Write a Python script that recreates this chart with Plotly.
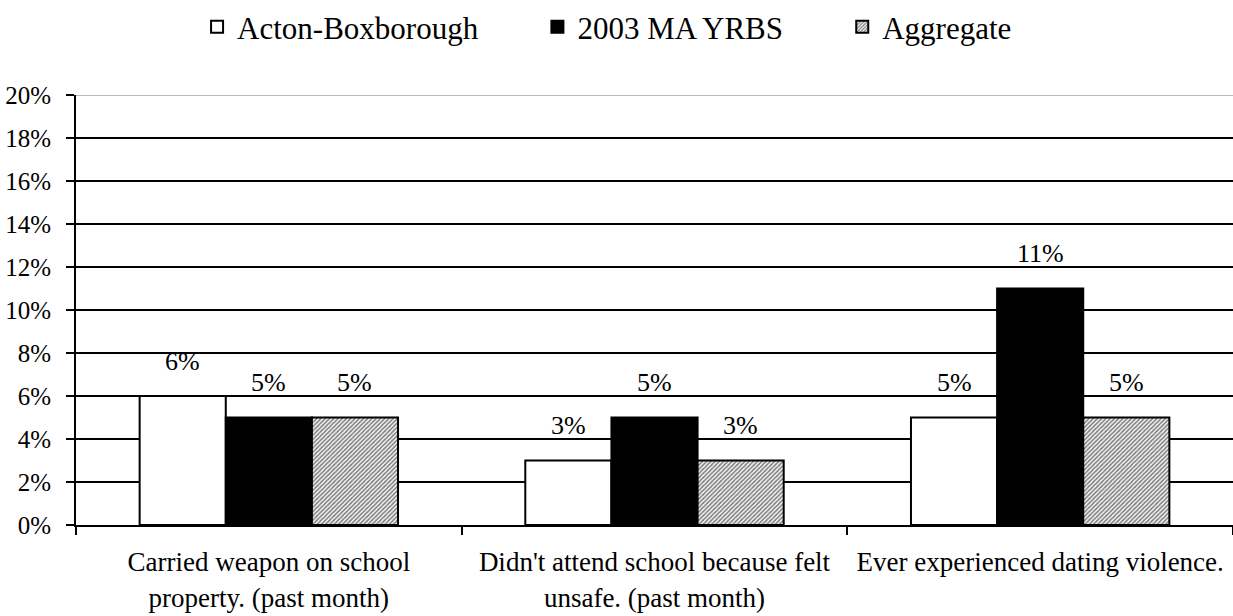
import plotly.graph_objects as go

# Données / Data
categories = [
    "Carried weapon on school<br>property. (past month)",
    "Didn't attend school because felt<br>unsafe. (past month)",
    "Ever experienced dating violence.",
]
series_names = ["Acton-Boxborough", "2003 MA YRBS", "Aggregate"]
acton = [6, 3, 5]
yrbs = [5, 5, 11]
aggregate = [5, 3, 5]
y_ticks = [0, 2, 4, 6, 8, 10, 12, 14, 16, 18, 20]

fnt = "Liberation Serif, Times New Roman, serif"
pad = "\u00a0" * 7  # espacement de la légende / legend spacing

fig = go.Figure()

fig.add_trace(go.Bar(
    x=categories, y=acton, name=series_names[0] + pad,
    marker=dict(color="white", line=dict(color="black", width=2)),
))
fig.add_trace(go.Bar(
    x=categories, y=yrbs, name=series_names[1] + pad,
    marker=dict(color="black", line=dict(color="black", width=2)),
))
fig.add_trace(go.Bar(
    x=categories, y=aggregate, name=series_names[2],
    marker=dict(color="white", line=dict(color="black", width=2),
                pattern=dict(shape="/", size=3, solidity=0.55, fgcolor="black", bgcolor="white")),
))

# Étiquettes de valeurs / Value labels (décalées au-dessus des barres)
bar_px = 1157 / 3 * (1 - 0.33) / 3
for i, vals in enumerate([acton, yrbs, aggregate]):
    for cat, v in zip(categories, vals):
        fig.add_annotation(
            x=cat, y=v, text=f"{v}%", showarrow=False,
            xshift=(i - 1) * bar_px, yshift=35, yanchor="middle",
            font=dict(family=fnt, size=26, color="black"),
        )

# Ligne du haut grise / Grey top line
fig.add_shape(type="line", xref="paper", yref="y", x0=0, x1=1, y0=20, y1=20,
              line=dict(color="#b8b8b8", width=2), layer="above")

fig.update_layout(
    width=1233, height=616,
    margin=dict(l=76, r=0, t=91, b=91),
    barmode="group", bargap=0.33, bargroupgap=0,
    plot_bgcolor="white", paper_bgcolor="white",
    font=dict(family=fnt, size=26, color="black"),
    legend=dict(orientation="h", x=0.459, xanchor="center", y=1.158, yanchor="middle",
                font=dict(family=fnt, size=31), itemwidth=30, traceorder="normal"),
    showlegend=True,
)

fig.update_yaxes(
    range=[0, 20], tickvals=y_ticks, ticktext=[f"{v}%" for v in y_ticks],
    showgrid=True, gridcolor="black", gridwidth=2,
    showline=True, linecolor="black", linewidth=2,
    ticks="outside", ticklen=8, tickwidth=2, tickcolor="black",
    ticklabelstandoff=10, automargin=False,
    zeroline=False, tickfont=dict(family=fnt, size=25),
)
fig.update_xaxes(
    showline=True, linecolor="black", linewidth=2,
    ticks="outside", tickson="boundaries", ticklen=8, tickwidth=2, tickcolor="black",
    ticklabelstandoff=12, automargin=False,
    tickfont=dict(family=fnt, size=27),
)

fig.write_html("out.html", config={"displayModeBar": False},
               post_script="document.body.style.margin='0';")
